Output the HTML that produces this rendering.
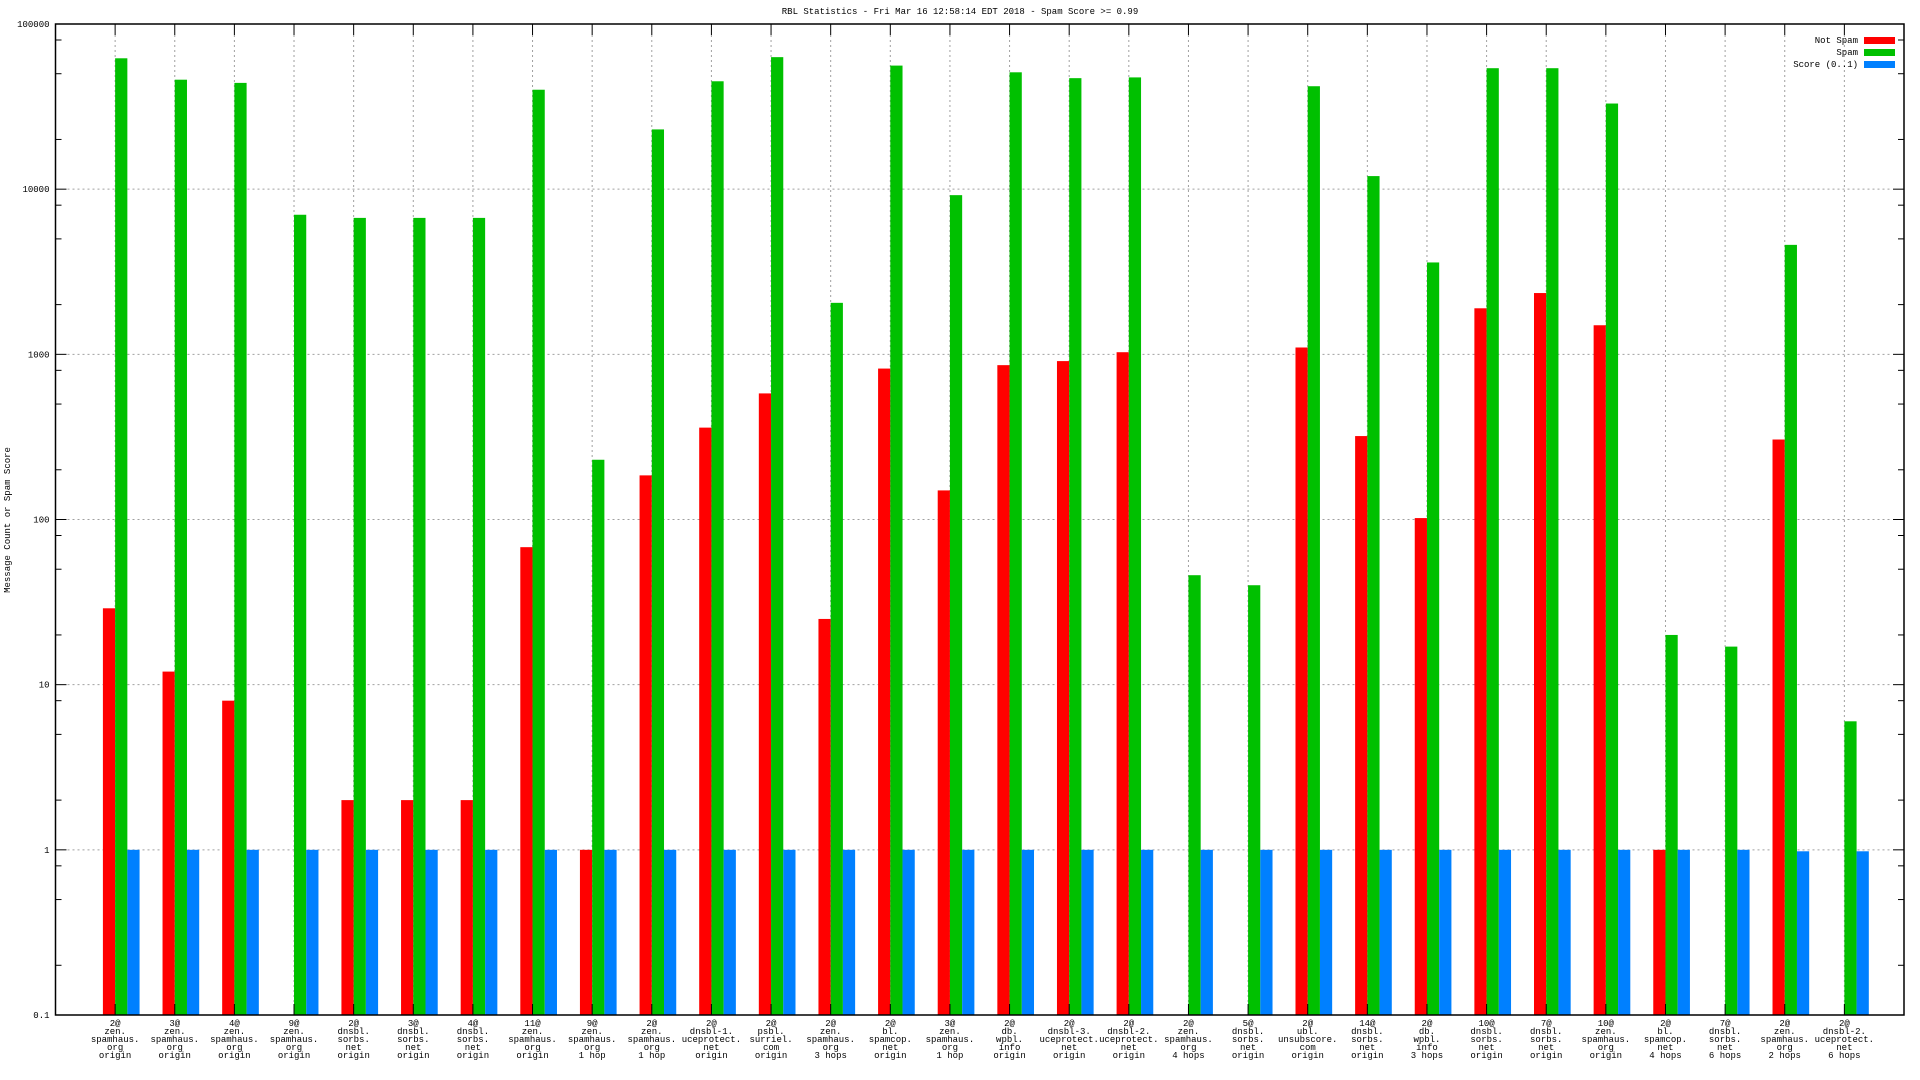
<!DOCTYPE html>
<html><head><meta charset="utf-8"><style>
html,body{margin:0;padding:0;background:#fff;}
svg{display:block;}
text{font-family:"Liberation Mono","DejaVu Sans Mono",monospace;font-size:9px;fill:#000;}
</style></head><body>
<svg id="chart" width="1920" height="1080" xmlns="http://www.w3.org/2000/svg">
<text x="960" y="14" text-anchor="middle">RBL Statistics - Fri Mar 16 12:58:14 EDT 2018 - Spam Score &gt;= 0.99</text>
<text transform="translate(10,520) rotate(-90)" text-anchor="middle">Message Count or Spam Score</text>
<g id="grid"></g><g id="bars"></g><g id="axes"></g><g id="labels"></g>
<g>
<text x="1858" y="43" text-anchor="end">Not Spam</text>
<rect x="1864" y="37" width="31" height="7" fill="#ff0000"/>
<text x="1858" y="55" text-anchor="end">Spam</text>
<rect x="1864" y="49" width="31" height="7" fill="#00c000"/>
<text x="1858" y="67" text-anchor="end">Score (0..1)</text>
<rect x="1864" y="61" width="31" height="7" fill="#0080ff"/>
</g>
</svg>
<script>
const categories=[
["2@","zen.","spamhaus.","org","origin"],["3@","zen.","spamhaus.","org","origin"],["4@","zen.","spamhaus.","org","origin"],["9@","zen.","spamhaus.","org","origin"],
["2@","dnsbl.","sorbs.","net","origin"],["3@","dnsbl.","sorbs.","net","origin"],["4@","dnsbl.","sorbs.","net","origin"],["11@","zen.","spamhaus.","org","origin"],
["9@","zen.","spamhaus.","org","1 hop"],["2@","zen.","spamhaus.","org","1 hop"],["2@","dnsbl-1.","uceprotect.","net","origin"],["2@","psbl.","surriel.","com","origin"],
["2@","zen.","spamhaus.","org","3 hops"],["2@","bl.","spamcop.","net","origin"],["3@","zen.","spamhaus.","org","1 hop"],["2@","db.","wpbl.","info","origin"],
["2@","dnsbl-3.","uceprotect.","net","origin"],["2@","dnsbl-2.","uceprotect.","net","origin"],["2@","zen.","spamhaus.","org","4 hops"],["5@","dnsbl.","sorbs.","net","origin"],
["2@","ubl.","unsubscore.","com","origin"],["14@","dnsbl.","sorbs.","net","origin"],["2@","db.","wpbl.","info","3 hops"],["10@","dnsbl.","sorbs.","net","origin"],
["7@","dnsbl.","sorbs.","net","origin"],["10@","zen.","spamhaus.","org","origin"],["2@","bl.","spamcop.","net","4 hops"],["7@","dnsbl.","sorbs.","net","6 hops"],
["2@","zen.","spamhaus.","org","2 hops"],["2@","dnsbl-2.","uceprotect.","net","6 hops"]];
const notSpam=[29,12,8,0,2,2,2,68,1,185,360,580,25,820,150,860,910,1030,0,0,1100,320,102,1900,2350,1500,1,0,305,0];
const spam=[62000,46000,44000,7000,6700,6700,6700,40000,230,23000,45000,63000,2050,56000,9200,51000,47000,47500,46,40,42000,12000,3600,54000,54000,33000,20,17,4600,6];
const score=[1,1,1,1,1,1,1,1,1,1,1,1,1,1,1,1,1,1,1,1,1,1,1,1,1,1,1,1,0.98,0.98];
const yTicks=["0.1","1","10","100","1000","10000","100000"];

const NS="http://www.w3.org/2000/svg";
const L=55.5,R=1904,T=24,B=1015;
const yMinLog=-1,yMaxLog=5;
function yScale(v){return B-(Math.log10(v)-yMinLog)/(yMaxLog-yMinLog)*(B-T);}
function xScale(i){return L+(i+1)*(R-L)/(categories.length+1);}
function mk(tag,attrs,parent){const e=document.createElementNS(NS,tag);for(const k in attrs)e.setAttribute(k,attrs[k]);parent.appendChild(e);return e;}
const grid=document.getElementById('grid'),bars=document.getElementById('bars'),axes=document.getElementById('axes'),labels=document.getElementById('labels');
// horizontal grid + y ticks
yTicks.forEach((t,k)=>{
  const y=yScale(parseFloat(t));
  if(k>0&&k<yTicks.length-1){const g=mk('line',{x1:L+12,x2:R-12,y1:y,y2:y,stroke:'#a0a0a0','stroke-dasharray':'2,3'},grid);
  
  }
  const tl=mk('text',{x:L-6,y:y+3,'text-anchor':'end'},labels);tl.textContent=t;
  
  
  mk('line',{x1:L,x2:L+11,y1:y,y2:y,stroke:'#000'},axes);
  mk('line',{x1:R,x2:R-11,y1:y,y2:y,stroke:'#000'},axes);
  if(k<yTicks.length-1){[2,5,8].forEach(m=>{const ym=yScale(parseFloat(t)*m);
    mk('line',{x1:L,x2:L+6,y1:ym,y2:ym,stroke:'#000'},axes);
    mk('line',{x1:R,x2:R-6,y1:ym,y2:ym,stroke:'#000'},axes);});}
});
const bw=(R-L)/(categories.length+1)*0.205;
categories.forEach((c,i)=>{
  const x=xScale(i);
  const g=mk('line',{x1:x,x2:x,y1:T+11,y2:B-11,stroke:'#a0a0a0','stroke-dasharray':'2,3'},grid);
  
  
  mk('line',{x1:x,x2:x,y1:T,y2:T+11,stroke:'#000'},axes);
  mk('line',{x1:x,x2:x,y1:B,y2:B-11,stroke:'#000'},axes);
  [[notSpam,'#ff0000','bar-not-spam',-bw],[spam,'#00c000','bar-spam',0],[score,'#0080ff','bar-score',bw]].forEach(s=>{
    const v=s[0][i]; if(!(v>0))return;
    const y=Math.max(T,yScale(v));
    const r=mk('rect',{x:x+s[3],y:y,width:bw,height:B-y,fill:s[1]},bars);
    
    
  });
  const t=mk('text',{x:x,y:B+11,'text-anchor':'middle'},labels);
  
  
  c.forEach((line,j)=>{const ts=mk('tspan',{x:x,dy:j?8:0},t);ts.textContent=line;});
});
const fr=mk('rect',{x:L,y:T,width:R-L,height:B-T,fill:'none',stroke:'#000','stroke-width':1.5},axes);


</script>
</body></html>
